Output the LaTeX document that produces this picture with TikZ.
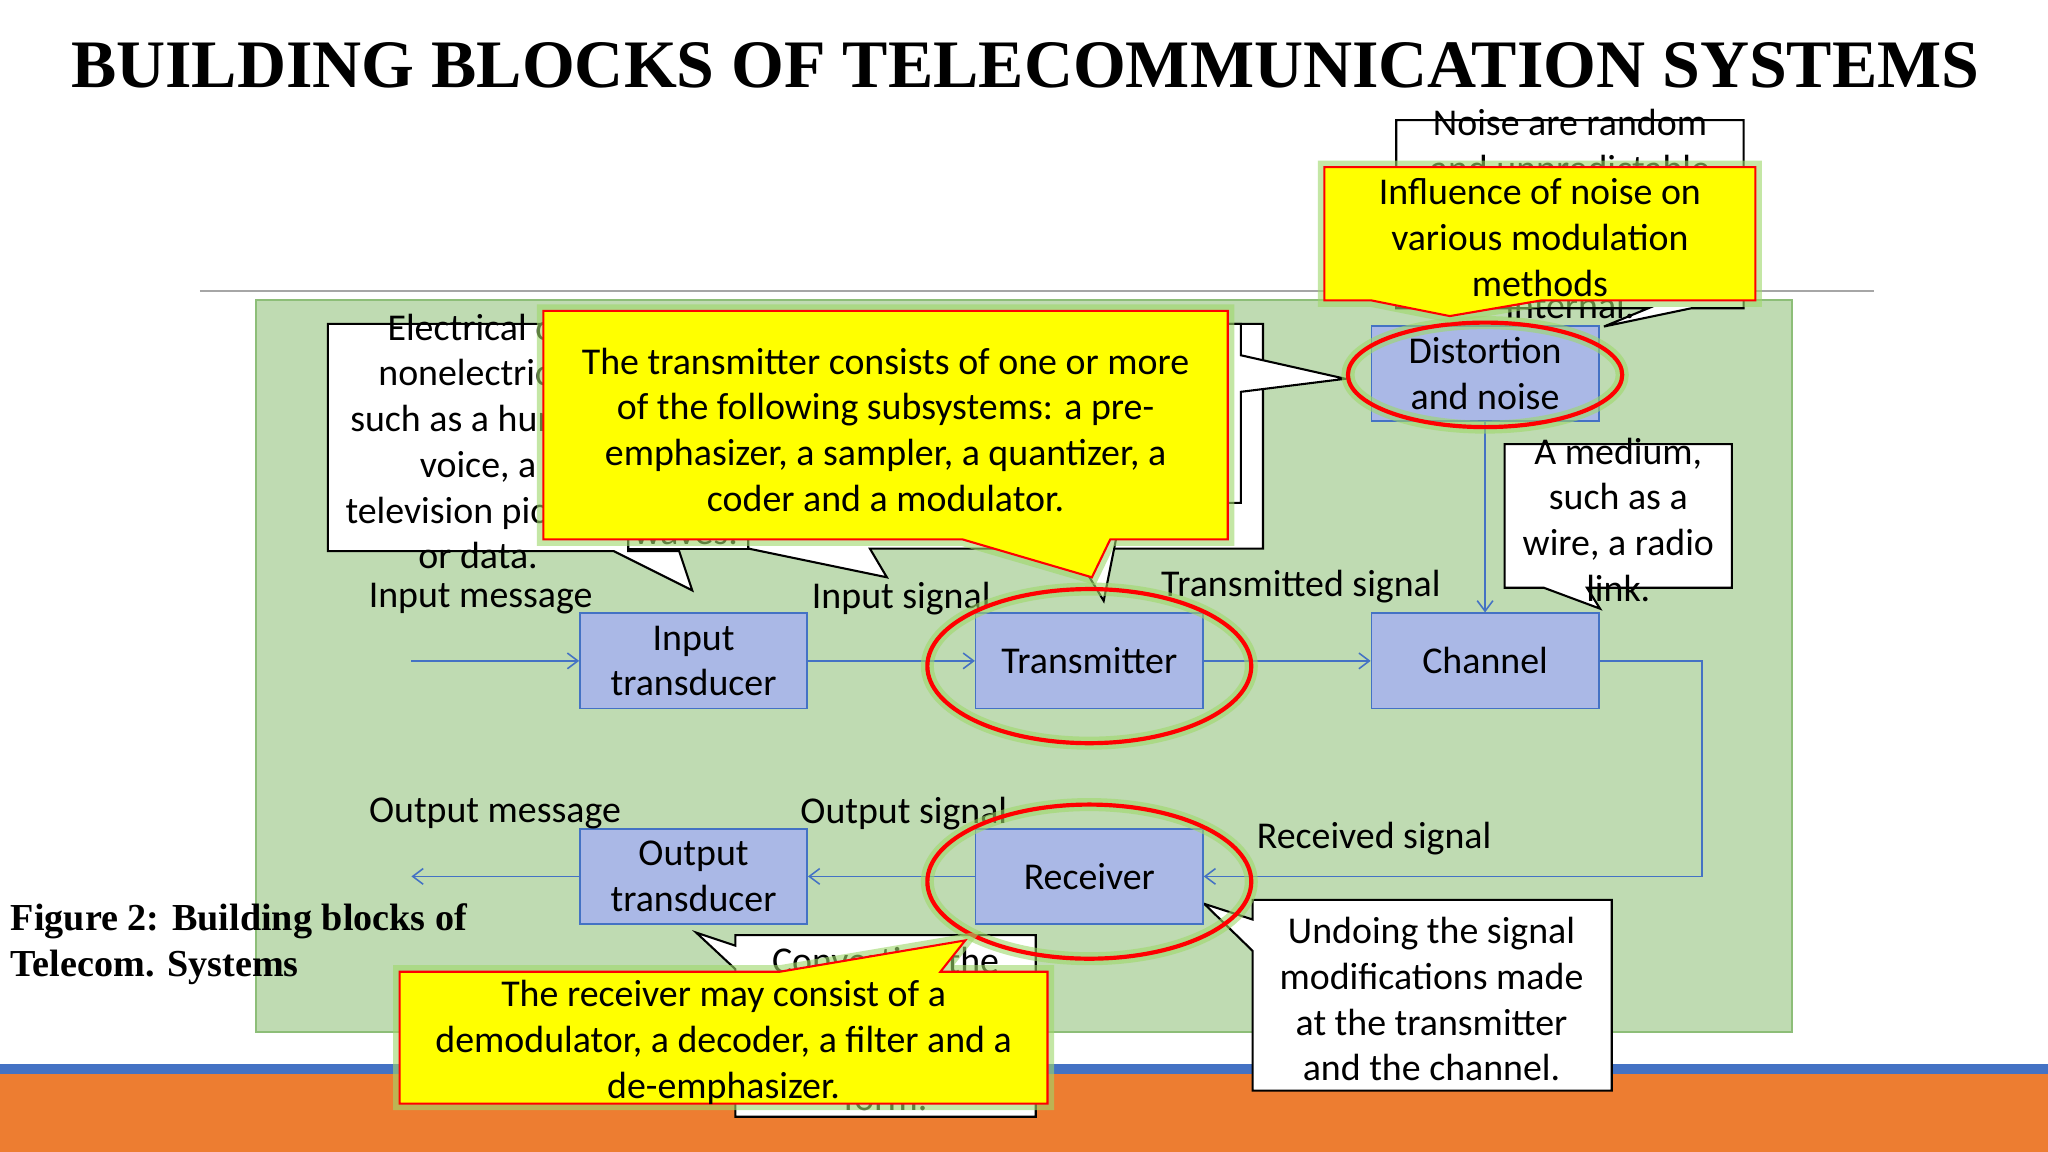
\documentclass[tikz,border=0pt]{standalone}
\usepackage{fontspec}
\setmainfont{Carlito}
\newfontfamily\serifb{Liberation Serif}
\usetikzlibrary{arrows.meta}
\definecolor{blk}{HTML}{AAB8E6}
\definecolor{blkb}{HTML}{4472C4}
\definecolor{grn}{HTML}{BFDBB2}
\definecolor{grnb}{HTML}{8DBE78}
\definecolor{orng}{HTML}{ED7D31}
\definecolor{glow}{HTML}{9ED86A}
\definecolor{yel}{HTML}{FFFF00}
\tikzset{
 x=0.5pt,y=-0.5pt,
 txt/.style={font=\fontsize{14.5}{17.5}\selectfont,align=center,inner sep=0pt},
 block/.style={draw=blkb,fill=blk,line width=0.6pt,minimum width=87pt,minimum height=36.5pt,txt},
 flow/.style={draw=blkb,line width=0.6pt,-{Straight Barb[length=4pt,width=6pt]}},
 wcall/.style={draw=black,fill=white,line width=0.8pt},
 ycall/.style={draw=red,fill=yel,line width=0.8pt},
 halo/.style={draw=glow,line width=5pt,opacity=0.6},
 ring/.style={draw=red,line width=1.6pt},
}
\begin{document}
\begin{tikzpicture}
\useasboundingbox (0,0) rectangle (1568,882);
\fill[white] (0,0) rectangle (1568,882);
% bottom bands
\fill[orng] (0,822) rectangle (1568,882);
\fill[blkb] (0,815) rectangle (1568,822);
% title
\node[font=\serifb\bfseries\fontsize{26}{28}\selectfont,inner sep=0pt] (title) at (785,50) {BUILDING BLOCKS OF TELECOMMUNICATION SYSTEMS};
\draw[gray!70,line width=0.7pt] (153,223) -- (1435,223);
% green panel
\draw[grnb,fill=grn,line width=0.7pt] (196,230) rectangle (1372,790);
% caption
\node[font=\serifb\bfseries\fontsize{14.6}{17.5}\selectfont,align=left,anchor=west,inner sep=0pt] (cap) at (8,723) {Figure 2: Building blocks of\\Telecom. Systems};

% white callouts
\draw[wcall] (573,248) -- (967,248) -- (967,420) -- (666,420) -- (679,442) -- (573,420) -- cycle;
\draw[wcall] (720,248) -- (950,248) -- (950,272) -- (1030,290) -- (950,300) -- (950,385) -- (860,385) -- (845,460) -- (800,385) -- (720,385) -- cycle;
\draw[wcall] (481,248) -- (573,248) -- (573,420) -- (481,420) -- cycle;
\node[txt] (c2t) at (525,410) {waves.};
\draw[wcall] (251,248) -- (481,248) -- (481,422) -- (520,422) -- (530,452) -- (470,422) -- (251,422) -- cycle;
\node[txt] (c1t) at (366,338) {Electrical or\\nonelectrical\\such as a human\\voice, a\\television picture\\or data.};
\draw[wcall] (1069,92) -- (1335,92) -- (1335,236) -- (1295,236) -- (1228,250) -- (1262,236) -- (1069,236) -- cycle;
\node[txt] (nt) at (1202,164) {Noise are random\\and unpredictable\\electrical signals\\from external or\\internal.};
\draw[wcall] (1152,340) -- (1326,340) -- (1326,450) -- (1215,450) -- (1225,466) -- (1182,450) -- (1152,450) -- cycle;
\node[txt] (mt) at (1239,398) {A medium,\\such as a\\wire, a radio\\link.};
\draw[wcall] (563,716) -- (793,716) -- (793,855) -- (563,855) -- (563,742) -- (533,714) -- (563,724) -- cycle;
\node[txt] (ct) at (678,788) {Converting the\\electrical signal\\into a desirable\\form.};
\draw[wcall] (959,689) -- (1234,689) -- (1234,835) -- (959,835) -- (959,728) -- (922,692) -- (959,704) -- cycle;
\node[txt] (ut) at (1096,765) {Undoing the signal\\modifications made\\at the transmitter\\and the channel.};

% blocks
\node[block] (in) at (531,506) {Input\\transducer};
\node[block] (tx) at (834,506) {Transmitter};
\node[block] (ch) at (1137,506) {Channel};
\node[block] (dn) at (1137,286) {Distortion\\and noise};
\node[block] (out) at (531,671) {Output\\transducer};
\node[block] (rx) at (834,671) {Receiver};
\coordinate (src) at (315,506);
\coordinate (snk) at (315,671);
\coordinate (r1) at (1303,506);
\coordinate (r2) at (1303,671);
\draw[flow] (src) -- (in);
\draw[flow] (in) -- (tx);
\draw[flow] (tx) -- (ch);
\draw[flow] (dn) -- (ch);
\draw[flow] (ch.east) -- (r1) -- (r2) -- (rx.east);
\draw[flow] (rx) -- (out);
\draw[flow] (out) -- (snk);
% labels
\node[txt] (l1) at (368,458) {Input message};
\node[txt] (l2) at (690,458) {Input signal};
\node[txt] (l3) at (996,449) {Transmitted signal};
\node[txt] (l4) at (379,623) {Output message};
\node[txt] (l5) at (692,623) {Output signal};
\node[txt] (l6) at (1052,642) {Received signal};
% rings
\foreach \cx/\cy/\rx/\ry in {834/510/124/59, 834/675/124/59, 1137/287/105/40}{
 \draw[halo] (\cx,\cy) ellipse[x radius=\rx,y radius=\ry];
 \draw[ring] (\cx,\cy) ellipse[x radius=\rx,y radius=\ry];
}
% yellow callouts
\def\ytx{(416,238) -- (940,238) -- (940,413) -- (850,413) -- (836,442) -- (737,413) -- (416,413) -- cycle}
\draw[halo] \ytx; \draw[ycall] \ytx;
\node[txt] (yt) at (678,329) {The transmitter consists of one or more\\of the following subsystems: a pre-\\emphasizer, a sampler, a quantizer, a\\coder and a modulator.};
\def\yno{(1014,128) -- (1344,128) -- (1344,230) -- (1180,230) -- (1110,242) -- (1050,230) -- (1014,230) -- cycle}
\draw[halo] \yno; \draw[ycall] \yno;
\node[txt] (yn) at (1179,182) {Influence of noise on\\various modulation\\methods};
\def\yrx{(306,744) -- (597,744) -- (739,720) -- (720,744) -- (802,744) -- (802,845) -- (306,845) -- cycle}
\draw[halo] \yrx; \draw[ycall] \yrx;
\node[txt] (yr) at (554,798) {The receiver may consist of a\\demodulator, a decoder, a filter and a\\de-emphasizer.};
\end{tikzpicture}
\end{document}
